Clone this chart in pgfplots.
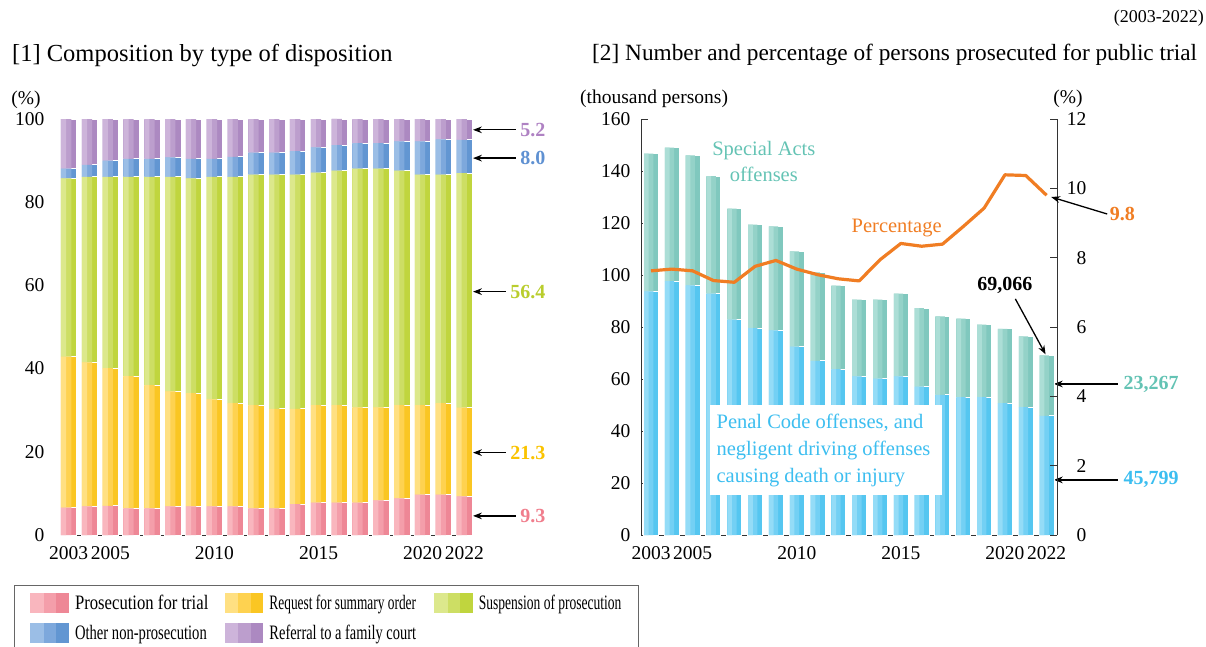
\documentclass[border=0pt]{standalone}
\usepackage{pgfplots}
\usepackage{pgfplotstable}
\pgfplotsset{compat=1.18}
\usepackage{fontspec}
\setmainfont{Liberation Serif}
\usetikzlibrary{arrows.meta}

% light / mid / dark tones (left-to-right gradient of each bar)
\definecolor{pinkL}{RGB}{249,182,190}\definecolor{pinkM}{RGB}{244,158,170}\definecolor{pinkD}{RGB}{238,135,150}
\definecolor{yelL}{RGB}{255,224,130}\definecolor{yelM}{RGB}{254,210,80}\definecolor{yelD}{RGB}{250,198,35}
\definecolor{grnL}{RGB}{220,232,140}\definecolor{grnM}{RGB}{205,222,100}\definecolor{grnD}{RGB}{192,213,62}
\definecolor{bluL}{RGB}{155,190,230}\definecolor{bluM}{RGB}{125,168,220}\definecolor{bluD}{RGB}{98,150,210}
\definecolor{purL}{RGB}{205,180,218}\definecolor{purM}{RGB}{188,158,205}\definecolor{purD}{RGB}{172,137,193}
\definecolor{cyaL}{RGB}{148,220,247}\definecolor{cyaM}{RGB}{115,208,244}\definecolor{cyaD}{RGB}{85,198,240}
\definecolor{tealL}{RGB}{172,222,214}\definecolor{tealM}{RGB}{148,210,200}\definecolor{tealD}{RGB}{128,200,190}
\definecolor{orangeLn}{RGB}{240,125,35}
\definecolor{txtPur}{RGB}{175,130,195}
\definecolor{txtBlu}{RGB}{95,145,210}
\definecolor{txtGrn}{RGB}{185,205,45}
\definecolor{txtYel}{RGB}{250,195,0}
\definecolor{txtPink}{RGB}{240,125,140}
\definecolor{txtTeal}{RGB}{100,195,180}
\definecolor{txtCya}{RGB}{60,190,240}

\newcommand\swatch[3]{%
  \fill[#3] (0pt,-9.5pt) rectangle (37.7pt,9.5pt);
  \fill[#2] (0pt,-9.5pt) rectangle (25pt,9.5pt);
  \fill[#1] (0pt,-9.5pt) rectangle (12.5pt,9.5pt);}

% i = year - 2003
\pgfplotstableread{
i year pros summ susp other fam
0 2003 6.6 36.3 42.8 2.4 11.9
1 2004 6.9 34.6 44.6 2.9 11.0
2 2005 7.0 33.1 46.0 3.9 10.0
3 2006 6.4 31.8 47.9 4.3 9.6
4 2007 6.4 29.6 50.1 4.3 9.6
5 2008 6.9 27.6 51.6 4.7 9.2
6 2009 6.9 27.2 51.6 4.7 9.6
7 2010 6.9 25.7 53.5 4.3 9.6
8 2011 6.9 24.8 54.4 4.8 9.1
9 2012 6.4 24.8 55.4 5.3 8.1
10 2013 6.4 23.9 56.3 5.3 8.1
11 2014 7.4 22.9 56.3 5.7 7.7
12 2015 7.8 23.4 55.9 6.1 6.8
13 2016 7.8 23.4 56.4 6.1 6.3
14 2017 7.8 22.9 57.4 6.1 5.8
15 2018 8.3 22.4 57.4 6.1 5.8
16 2019 8.8 22.4 56.4 7.0 5.4
17 2020 9.7 21.5 55.4 8.0 5.4
18 2021 9.7 22.0 54.9 8.5 4.9
19 2022 9.3 21.3 56.4 8.0 5.0
}\dispo

\pgfplotstableread{
i year penal special pct
0 2003 93.7 53.0 7.62
1 2004 97.6 51.4 7.67
2 2005 96.0 50.0 7.62
3 2006 92.8 45.2 7.34
4 2007 82.8 42.7 7.29
5 2008 79.6 39.8 7.75
6 2009 78.7 40.0 7.92
7 2010 72.5 36.6 7.67
8 2011 67.0 34.0 7.51
9 2012 63.8 32.1 7.39
10 2013 61.0 29.5 7.33
11 2014 60.1 30.4 7.94
12 2015 61.0 31.8 8.41
13 2016 57.1 30.2 8.33
14 2017 53.9 30.2 8.39
15 2018 53.0 30.2 8.90
16 2019 53.0 27.9 9.43
17 2020 50.7 28.6 10.39
18 2021 49.2 27.2 10.37
19 2022 45.799 23.267 9.8
}\pros

\pgfplotsset{
  common/.style={
    scale only axis, clip=false,
    axis line style={line width=1pt, black!80},
    tick align=inside,
    major tick length=7pt,
    y tick style={line width=0.8pt, black!80},
    x tick style={draw=none},
    tick label style={font=\fontsize{19.5}{20}\selectfont},
    /pgf/number format/assume math mode=true,
    xtick={0,2,7,12,17,19},
    xticklabels={2003,2005,2010,2015,2020,2022},
    xticklabel style={yshift=-8pt},
  },
  leftgeom/.style={scale only axis, clip=false, at={(60pt,-535pt)}, anchor=south west,
    width=413pt, height=416pt, xmin=-0.42, xmax=19.42, ymin=0, ymax=100},
  rightgeom/.style={scale only axis, clip=false, at={(641pt,-535pt)}, anchor=south west,
    width=416pt, height=416pt, xmin=-0.48, xmax=19.5},
}

\begin{document}
\begin{tikzpicture}
\useasboundingbox (0,0) rectangle (1206pt,-647pt);

% titles
\node[anchor=base west, inner sep=0pt, font=\fontsize{24.5}{26}\selectfont] at (12pt,-61.5pt) {[1] Composition by type of disposition};
\node[anchor=base west, inner sep=0pt, font=\fontsize{23.3}{26}\selectfont] at (592pt,-60.5pt) {[2] Number and percentage of persons prosecuted for public trial};
\node[anchor=east, inner sep=0pt, font=\fontsize{18}{20}\selectfont] at (1204pt,-18pt) {(2003-2022)};
\node[inner sep=0pt, font=\fontsize{19.5}{20}\selectfont] at (26pt,-100pt) {(\%)};
\node[anchor=west, inner sep=0pt, font=\fontsize{19.5}{20}\selectfont] at (580pt,-99pt) {(thousand persons)};
\node[inner sep=0pt, font=\fontsize{19.5}{20}\selectfont] at (1068pt,-99pt) {(\%)};

% ---------- left chart ----------
\begin{axis}[common, leftgeom,
  ybar stacked, bar width=16.5pt,
  axis x line*=bottom, axis y line*=left,
  ytick={0,20,...,100},
  yticklabel style={xshift=-12pt},
  legend columns=3,
  legend cell align=left,
  legend style={at={(-0.1114,-0.1195)}, anchor=north west, draw=black!60, line width=0.8pt,
    inner xsep=16pt, inner ysep=7.6pt, column sep=4pt, row sep=10.4pt,
    font=\fontsize{20.5}{20.5}\selectfont},
]
\addplot[draw=white, line width=1pt, fill=pinkD, legend image code/.code={\swatch{pinkL}{pinkM}{pinkD}}] table[x=i,y=pros]{\dispo};
\addlegendentry{\makebox[143.7pt][l]{\resizebox{133.3pt}{\height}{Prosecution for trial}}}
\addplot[draw=white, line width=1pt, fill=yelD, legend image code/.code={\swatch{yelL}{yelM}{yelD}}] table[x=i,y=summ]{\dispo};
\addlegendentry{\makebox[158.6pt][l]{\resizebox{146.6pt}{\height}{Request for summary order}}}
\addplot[draw=white, line width=1pt, fill=grnD, legend image code/.code={\swatch{grnL}{grnM}{grnD}}] table[x=i,y=susp]{\dispo};
\addlegendentry{\makebox[142pt][l]{\resizebox{142.7pt}{\height}{Suspension of prosecution}}}
\addplot[draw=white, line width=1pt, fill=bluD, legend image code/.code={\swatch{bluL}{bluM}{bluD}}] table[x=i,y=other]{\dispo};
\addlegendentry{\makebox[143.7pt][l]{\resizebox{131.7pt}{\height}{Other non-prosecution}}}
\addplot[draw=white, line width=1pt, fill=purD, legend image code/.code={\swatch{purL}{purM}{purD}}] table[x=i,y=fam]{\dispo};
\addlegendentry{\makebox[158.6pt][l]{\resizebox{146.6pt}{\height}{Referral to a family court}}}

\draw[line width=1.3pt, Stealth-] (axis cs:19.42,97.4) -- ++(34pt,0);
\node[anchor=east, xshift=76pt, text=txtPur, font=\bfseries\fontsize{20}{22}\selectfont] at (axis cs:19.42,97.4) {5.2};
\draw[line width=1.3pt, Stealth-] (axis cs:19.42,90.6) -- ++(34pt,0);
\node[anchor=east, xshift=76pt, text=txtBlu, font=\bfseries\fontsize{20}{22}\selectfont] at (axis cs:19.42,90.6) {8.0};
\draw[line width=1.3pt, Stealth-] (axis cs:19.42,58.5) -- ++(24pt,0);
\node[anchor=east, xshift=76pt, text=txtGrn, font=\bfseries\fontsize{20}{22}\selectfont] at (axis cs:19.42,58.5) {56.4};
\draw[line width=1.3pt, Stealth-] (axis cs:19.42,19.8) -- ++(24pt,0);
\node[anchor=east, xshift=76pt, text=txtYel, font=\bfseries\fontsize{20}{22}\selectfont] at (axis cs:19.42,19.8) {21.3};
\draw[line width=1.3pt, Stealth-] (axis cs:19.42,4.6) -- ++(34pt,0);
\node[anchor=east, xshift=76pt, text=txtPink, font=\bfseries\fontsize{20}{22}\selectfont] at (axis cs:19.42,4.6) {9.3};
\end{axis}

% gradient overlays (left chart): mid tone on left 2/3, light tone on left 1/3
\begin{axis}[leftgeom, hide axis, ybar stacked, bar width=10.3pt, bar shift=-2.6pt]
\addplot[draw=none, fill=pinkM] table[x=i,y=pros]{\dispo};
\addplot[draw=none, fill=yelM] table[x=i,y=summ]{\dispo};
\addplot[draw=none, fill=grnM] table[x=i,y=susp]{\dispo};
\addplot[draw=none, fill=bluM] table[x=i,y=other]{\dispo};
\addplot[draw=none, fill=purM] table[x=i,y=fam]{\dispo};
\end{axis}
\begin{axis}[leftgeom, hide axis, ybar stacked, bar width=5.2pt, bar shift=-5.15pt]
\addplot[draw=none, fill=pinkL] table[x=i,y=pros]{\dispo};
\addplot[draw=none, fill=yelL] table[x=i,y=summ]{\dispo};
\addplot[draw=none, fill=grnL] table[x=i,y=susp]{\dispo};
\addplot[draw=none, fill=bluL] table[x=i,y=other]{\dispo};
\addplot[draw=none, fill=purL] table[x=i,y=fam]{\dispo};
\end{axis}

% ---------- right chart: bars ----------
\begin{axis}[common, rightgeom, ymin=0, ymax=160,
  ybar stacked, bar width=15pt,
  axis x line*=bottom, axis y line*=left,
  ytick={0,20,...,160},
  yticklabel style={xshift=-7pt},
]
\addplot[draw=white, line width=1pt, fill=cyaD] table[x=i,y=penal]{\pros};
\addplot[draw=white, line width=1pt, fill=tealD] table[x=i,y=special]{\pros};

\node[align=center, text=txtTeal, font=\fontsize{20.5}{26}\selectfont] at (axis cs:5.42,143.8) {Special Acts\\offenses};
\node[anchor=west, inner sep=0pt, text=orangeLn, font=\fontsize{20.5}{22}\selectfont] at (axis cs:9.63,118.0) {Percentage};

\node[font=\bfseries\fontsize{20}{22}\selectfont] at (axis cs:17.0,95.9) {69,066};
\draw[line width=1.3pt, -Stealth] (axis cs:17.5,90.8) -- (axis cs:18.95,69.5);
\draw[line width=1.3pt, Stealth-] (axis cs:19.35,58.1) -- ++(54pt,0) node[anchor=west, inner xsep=5pt, text=txtTeal, font=\bfseries\fontsize{20}{22}\selectfont] {23,267};
\draw[line width=1.3pt, Stealth-] (axis cs:19.35,21.2) -- ++(54pt,0) node[anchor=west, inner xsep=5pt, text=txtCya, font=\bfseries\fontsize{20}{22}\selectfont] {45,799};
\end{axis}

\begin{axis}[rightgeom, ymin=0, ymax=160, hide axis, ybar stacked, bar width=9.3pt, bar shift=-2.35pt]
\addplot[draw=none, fill=cyaM] table[x=i,y=penal]{\pros};
\addplot[draw=none, fill=tealM] table[x=i,y=special]{\pros};
\end{axis}
\begin{axis}[rightgeom, ymin=0, ymax=160, hide axis, ybar stacked, bar width=4.7pt, bar shift=-4.65pt]
\addplot[draw=none, fill=cyaL] table[x=i,y=penal]{\pros};
\addplot[draw=none, fill=tealL] table[x=i,y=special]{\pros};
\end{axis}

% ---------- right chart: percentage ----------
\begin{axis}[common, rightgeom, ymin=0, ymax=12,
  axis y line*=right, axis x line=none,
  xtick=\empty,
  ytick={0,2,...,12},
  yticklabel style={anchor=east, xshift=33pt},
]
\fill[white] (axis cs:2.83,1.155) rectangle (axis cs:13.97,3.75);
\node[anchor=north west, align=left, inner xsep=6.5pt, inner ysep=9pt, text=txtCya,
  font=\fontsize{20.5}{27}\selectfont] at (axis cs:2.83,3.75)
  {Penal Code offenses, and\\negligent driving offenses\\causing death or injury};
\addplot[orangeLn, line width=3.2pt, line join=round, mark=none] table[x=i,y=pct]{\pros};
\draw[line width=1.3pt, Stealth-] (axis cs:19.22,9.75) -- ++(56pt,-17pt) node[anchor=west, inner xsep=2pt, text=orangeLn, font=\bfseries\fontsize{20}{22}\selectfont] {9.8};
\end{axis}
\end{tikzpicture}
\end{document}
